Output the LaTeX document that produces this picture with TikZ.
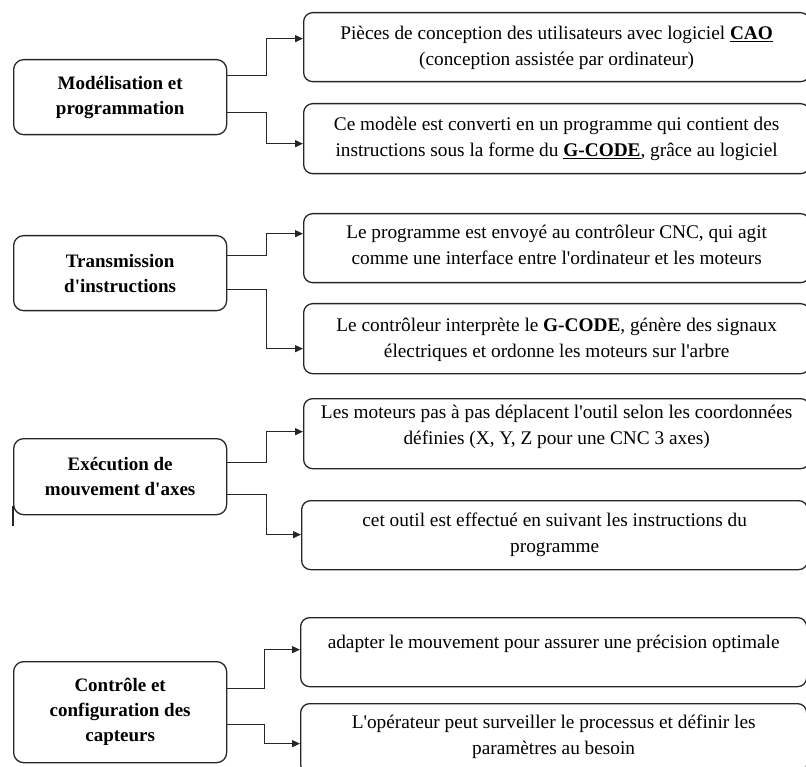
\documentclass[tikz,border=0pt]{standalone}
\usepackage{fontspec}
\setmainfont{Liberation Serif}
\usetikzlibrary{arrows.meta,calc}

\begin{document}
\begin{tikzpicture}[x=1pt,y=-1pt,
  boxline/.style={draw=black!85, line width=1.3pt},
  catbox/.style={boxline, rounded corners=10pt, minimum width=213pt,
    anchor=north west, inner sep=0pt, align=center,
    font=\fontsize{19}{25}\selectfont\bfseries},
  stepbox/.style={boxline, rounded corners=9pt, minimum width=506pt,
    minimum height=69pt, anchor=north west, inner sep=0pt},
  desc/.style={anchor=north, inner sep=0pt, align=center,
    font=\fontsize{19.3}{26}\selectfont},
  link/.style={draw=black!85, line width=1.3pt,
    -{Triangle[length=8pt,width=7pt]}}
]
\path[use as bounding box] (0,0) rectangle (806,767);
\clip (0,0) rectangle (806,767);

% ---- Modélisation et programmation
\node[catbox, minimum height=75pt] (L1) at (13,59) {Modélisation et\\programmation};
\node[stepbox] (R1) at (303,12) {};
\node[stepbox, minimum height=70pt] (R2) at (303,103) {};
\node[desc] at ($(R1.north)+(0,14)$) {Pièces de conception des utilisateurs avec logiciel \underline{\textbf{CAO}}\\(conception assistée par ordinateur)};
\node[desc] at ($(R2.north)+(0,14)$) {Ce modèle est converti en un programme qui contient des\\instructions sous la forme du \underline{\textbf{G-CODE}}, grâce au logiciel};
\draw[link] ([yshift=21.5pt]L1.east) -- ++(39,0) |- ([yshift=8.5pt]R1.west);
\draw[link] ([yshift=-15.5pt]L1.east) -- ++(39,0) |- ([yshift=-5pt]R2.west);

% ---- Transmission d'instructions
\node[catbox, minimum height=75pt] (L2) at (13,235) {Transmission\\d\textquotesingle instructions};
\node[stepbox] (R3) at (303,213) {};
\node[stepbox, minimum height=70pt] (R4) at (303,303) {};
\node[desc] at ($(R3.north)+(0,12)$) {Le programme est envoyé au contrôleur CNC, qui agit\\comme une interface entre l\textquotesingle ordinateur et les moteurs};
\node[desc] at ($(R4.north)+(0,15)$) {Le contrôleur interprète le \textbf{G-CODE}, génère des signaux\\électriques et ordonne les moteurs sur l\textquotesingle arbre};
\draw[link] ([yshift=17.5pt]L2.east) -- ++(39,0) |- ([yshift=14.5pt]R3.west);
\draw[link] ([yshift=-16.5pt]L2.east) -- ++(39,0) |- ([yshift=-10pt]R4.west);

% ---- Exécution de mouvement d'axes
\node[catbox, minimum height=76pt] (L3) at (13,438) {Exécution de\\mouvement d\textquotesingle axes};
\draw[boxline] ($(L3.south west)+(0,-9)$) -- ++(0,20);
\node[stepbox, minimum height=70pt] (R5) at (303,398) {};
\node[stepbox] (R6) at (301,500) {};
\node[desc] at ($(R5.north)+(0,7)$) {Les moteurs pas à pas déplacent l\textquotesingle outil selon les coordonnées\\définies (X, Y, Z pour une CNC 3 axes)};
\node[desc] at ($(R6.north)+(0,13)$) {cet outil est effectué en suivant les instructions du\\programme};
\draw[link] ([yshift=14pt]L3.east) -- ++(39,0) |- ([yshift=2pt]R5.west);
\draw[link] ([yshift=-18pt]L3.east) -- ++(39,0) |- ([yshift=0.5pt]R6.west);

% ---- Contrôle et configuration des capteurs
\node[catbox, minimum height=101pt] (L4) at (13,661) {Contrôle et\\configuration des\\capteurs};
\node[stepbox] (R7) at (300,617) {};
\node[stepbox, minimum height=70pt] (R8) at (300,703) {};
\node[desc] at ($(R7.north)+(0,18)$) {adapter le mouvement pour assurer une précision optimale};
\node[desc] at ($(R8.north)+(0,12)$) {L\textquotesingle opérateur peut surveiller le processus et définir les\\paramètres au besoin};
\draw[link] ([yshift=23.5pt]L4.east) -- ++(37,0) |- ([yshift=2.5pt]R7.west);
\draw[link] ([yshift=-12.5pt]L4.east) -- ++(37,0) |- ([yshift=-5pt]R8.west);
\end{tikzpicture}
\end{document}
